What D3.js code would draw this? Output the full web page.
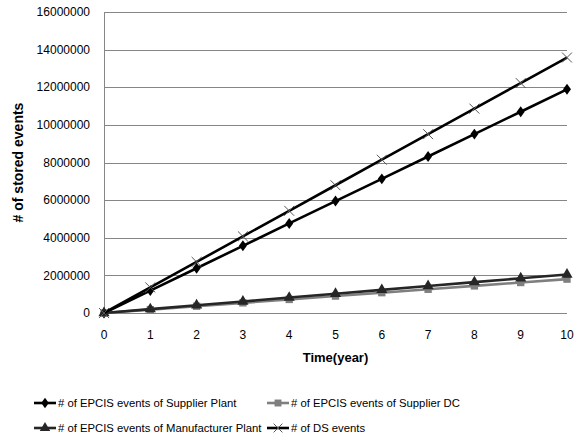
<!DOCTYPE html>
<html>
<head>
<meta charset="utf-8">
<script src="https://cdn.jsdelivr.net/npm/d3@7"></script>
<style>
  body { margin: 0; background: #fff; }
  svg { display: block; }
  text { fill: #000; }
</style>
</head>
<body>
<svg id="chart" width="574" height="437"></svg>
<script>
// Years on the x axis
const years = [0, 1, 2, 3, 4, 5, 6, 7, 8, 9, 10];

// Series values
const supplierPlant = [0, 1190000, 2380000, 3570000, 4760000, 5950000, 7130000, 8320000, 9510000, 10700000, 11890000];
const supplierDC = [0, 180000, 360000, 540000, 720000, 900000, 1080000, 1260000, 1440000, 1620000, 1800000];
const manufacturerPlant = [0, 205000, 410000, 615000, 820000, 1025000, 1230000, 1435000, 1640000, 1845000, 2050000];
const dsEvents = [0, 1358000, 2716000, 4074000, 5432000, 6790000, 8148000, 9506000, 10864000, 12222000, 13580000];

const yTicks = [0, 2000000, 4000000, 6000000, 8000000, 10000000, 12000000, 14000000, 16000000];

const seriesNames = [
  "# of EPCIS events of Supplier Plant",
  "# of EPCIS events of Supplier DC",
  "# of EPCIS events of Manufacturer Plant",
  "# of DS events"
];

const series = [
  { name: seriesNames[0], values: supplierPlant, color: "#000", marker: "diamond" },
  { name: seriesNames[1], values: supplierDC, color: "#7f7f7f", marker: "square" },
  { name: seriesNames[2], values: manufacturerPlant, color: "#262626", marker: "triangle" },
  { name: seriesNames[3], values: dsEvents, color: "#000", marker: "cross" }
];

const margin = { left: 104, right: 7, top: 12, bottom: 124 };
const width = 574, height = 437;

const svg = d3.select("#chart");

const x = d3.scaleLinear().domain([0, 10]).range([margin.left, width - margin.right]);
const y = d3.scaleLinear().domain([0, 16000000]).range([height - margin.bottom, margin.top]);

// gridlines
svg.append("g")
  .selectAll("line")
  .data(yTicks)
  .join("line")
  .attr("x1", margin.left)
  .attr("x2", width - margin.right)
  .attr("y1", d => Math.round(y(d)) + 0.5)
  .attr("y2", d => Math.round(y(d)) + 0.5)
  .attr("stroke", "#868686")
  .attr("stroke-width", 1);

// left axis line
svg.append("line")
  .attr("x1", margin.left + 0.5).attr("x2", margin.left + 0.5)
  .attr("y1", Math.round(y(16000000))).attr("y2", Math.round(y(0)) + 1)
  .attr("stroke", "#868686");

// y tick labels
svg.append("g")
  .selectAll("text")
  .data(yTicks)
  .join("text")
  .attr("x", margin.left - 14)
  .attr("y", d => y(d))
  .attr("dy", "0.35em")
  .attr("text-anchor", "end")
  .style("font-family", "'Liberation Sans', Arial, sans-serif")
  .style("font-size", "12px")
  .text(d => d);

// x tick labels
svg.append("g")
  .selectAll("text")
  .data(years)
  .join("text")
  .attr("x", d => x(d))
  .attr("y", y(0) + 26)
  .attr("text-anchor", "middle")
  .style("font-family", "'Liberation Sans', Arial, sans-serif")
  .style("font-size", "12px")
  .text(d => d);

// axis titles
svg.append("text")
  .attr("x", (margin.left + width - margin.right) / 2)
  .attr("y", 362)
  .attr("text-anchor", "middle")
  .style("font-family", "'Liberation Sans', Arial, sans-serif")
  .style("font-size", "13px")
  .style("font-weight", "bold")
  .text("Time(year)");

svg.append("text")
  .attr("transform", `translate(23,${(y(0) + y(16000000)) / 2}) rotate(-90)`)
  .attr("text-anchor", "middle")
  .style("font-family", "'Liberation Sans', Arial, sans-serif")
  .style("font-size", "14px")
  .style("font-weight", "bold")
  .text("# of stored events");

const line = d3.line().x((d, i) => x(years[i])).y(d => y(d));

function drawMarker(g, type, color, size) {
  if (type === "diamond") {
    g.append("path").attr("d", d3.symbol(d3.symbolDiamond2, size * 7)()).attr("fill", color)
      .attr("transform", "scale(0.8,1.1)");
  } else if (type === "square") {
    g.append("path").attr("d", d3.symbol(d3.symbolSquare, size * 6)()).attr("fill", color);
  } else if (type === "triangle") {
    g.append("path").attr("d", d3.symbol(d3.symbolTriangle, size * 6)()).attr("fill", color);
  } else if (type === "cross") {
    const r = size * 0.55;
    g.append("path").attr("d", `M${-r},${-r}L${r},${r}M${-r},${r}L${r},${-r}`)
      .attr("stroke", "#555").attr("stroke-width", 1).attr("fill", "none");
  }
}

// lines and markers
series.forEach(s => {
  const g = svg.append("g");
  g.append("path")
    .datum(s.values)
    .attr("d", line)
    .attr("fill", "none")
    .attr("stroke", s.color)
    .attr("stroke-width", 2.6);
  s.values.forEach((v, i) => {
    const m = g.append("g").attr("transform", `translate(${x(years[i])},${y(v)})`);
    drawMarker(m, s.marker, s.color, 9);
  });
});

// legend
const legendPos = [
  { x: 34, y: 403 }, { x: 267, y: 403 },
  { x: 34, y: 428 }, { x: 267, y: 428 }
];

series.forEach((s, i) => {
  const p = legendPos[i];
  const g = svg.append("g").attr("transform", `translate(${p.x},${p.y})`);
  g.append("line").attr("x1", 0).attr("x2", 22).attr("y1", 0).attr("y2", 0)
    .attr("stroke", s.color).attr("stroke-width", 2.6);
  const m = g.append("g").attr("transform", "translate(11,0)");
  drawMarker(m, s.marker, s.color, 8);
  g.append("text")
    .attr("x", 24)
    .attr("y", 0)
    .attr("dy", "0.35em")
    .style("font-family", "'Liberation Sans', Arial, sans-serif")
    .style("font-size", "11.3px")
    .text(s.name);
});
</script>
</body>
</html>
